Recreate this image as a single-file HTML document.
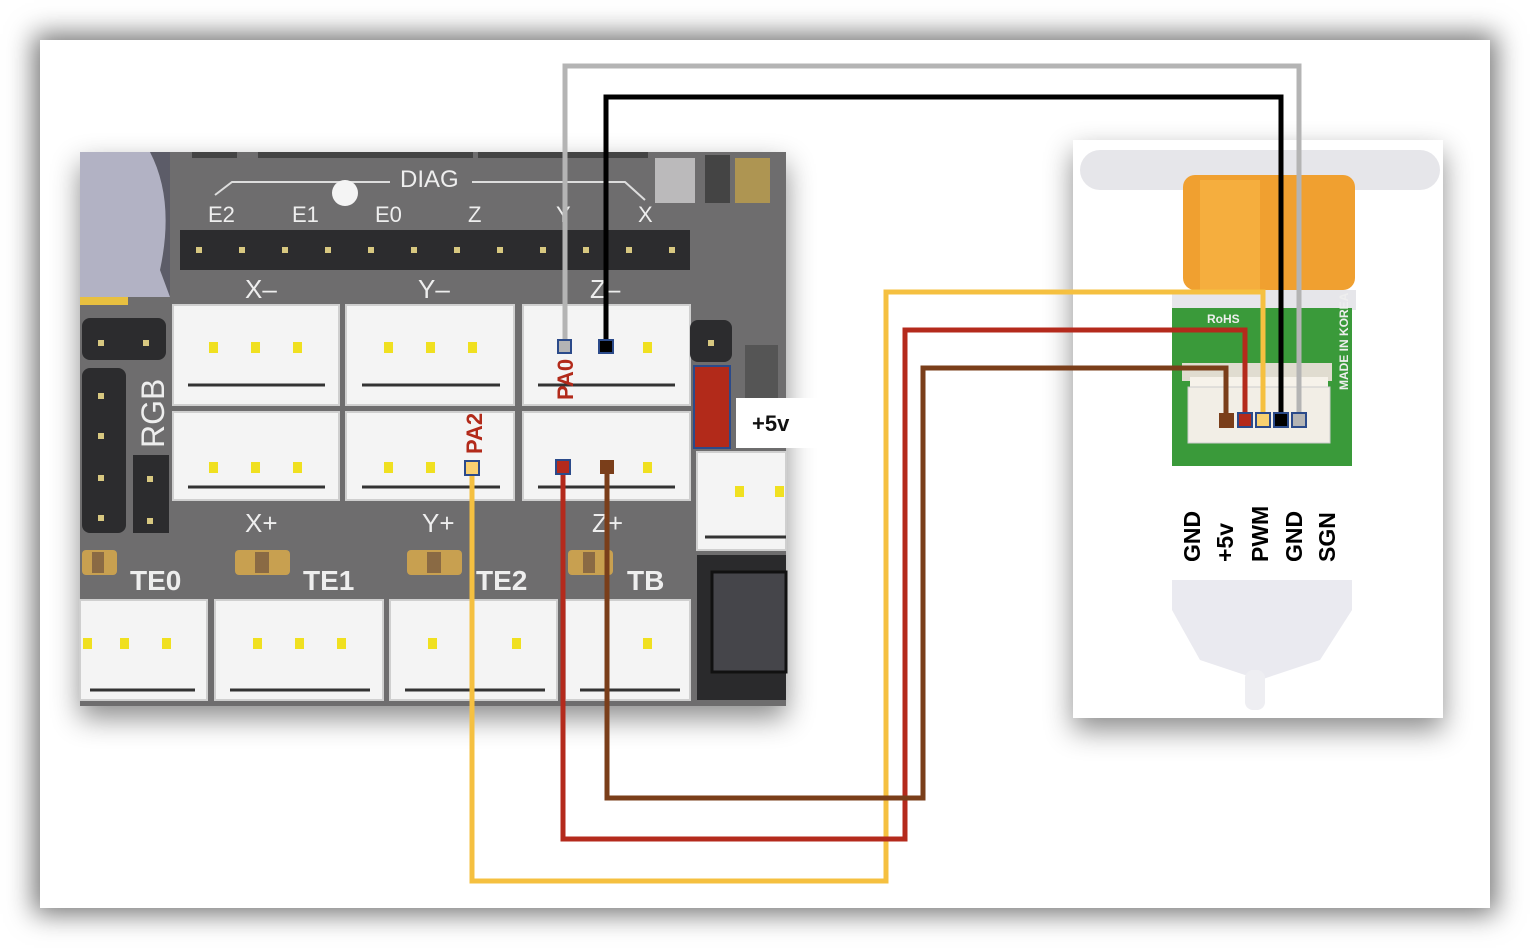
<!DOCTYPE html>
<html><head><style>
html,body{margin:0;padding:0;background:#fff;}
.card{position:absolute;left:40px;top:40px;width:1450px;height:868px;background:#fff;box-shadow:0 0 25px 6px rgba(0,0,0,0.55);}
svg{position:absolute;left:0;top:0;}
</style></head><body>
<div class="card"></div>
<svg width="1530" height="948" viewBox="0 0 1530 948" font-family="Liberation Sans, sans-serif">
<defs>
<filter id="sh" x="-10%" y="-10%" width="120%" height="130%"><feDropShadow dx="0" dy="12" stdDeviation="14" flood-color="#000" flood-opacity="0.45"/></filter>
</defs>
<!-- board -->
<g filter="url(#sh)"><rect x="80" y="152" width="706" height="554" fill="#6e6d6e"/></g>
<rect x="80" y="152" width="90" height="145" fill="#b2b2c4"/>
<path d="M150 152 Q175 200 160 270 L170 297 L170 152Z" fill="#5c5c68"/>
<rect x="80" y="297" width="48" height="8" fill="#e8c040"/>
<!-- top bits -->
<rect x="192" y="152" width="45" height="6" fill="#444"/><rect x="258" y="152" width="215" height="6" fill="#444"/><rect x="478" y="152" width="170" height="6" fill="#444"/>
<path d="M215 195 L232 182 L390 182 M472 182 L625 182 L645 200" stroke="#ddd" stroke-width="2" fill="none"/>
<circle cx="345" cy="193" r="13" fill="#f4f4f4"/>
<text x="400" y="187" fill="#eee" font-size="24">DIAG</text>
<g fill="#eee" font-size="22"><text x="208" y="222">E2</text><text x="292" y="222">E1</text><text x="375" y="222">E0</text><text x="468" y="222">Z</text><text x="556" y="222">Y</text><text x="638" y="222">X</text></g>
<rect x="655" y="158" width="40" height="45" fill="#eee" opacity=".6"/><rect x="705" y="155" width="25" height="48" fill="#444"/><rect x="735" y="158" width="35" height="45" fill="#d8b040" opacity=".6"/>
<!-- header -->
<g fill="#2c2c2e">
<rect x="180" y="230" width="510" height="40"/></g>
<g fill="#d8c880">
<rect x="196" y="247" width="6" height="6"/><rect x="239" y="247" width="6" height="6"/><rect x="282" y="247" width="6" height="6"/><rect x="325" y="247" width="6" height="6"/><rect x="368" y="247" width="6" height="6"/><rect x="411" y="247" width="6" height="6"/><rect x="454" y="247" width="6" height="6"/><rect x="497" y="247" width="6" height="6"/><rect x="540" y="247" width="6" height="6"/><rect x="583" y="247" width="6" height="6"/><rect x="626" y="247" width="6" height="6"/><rect x="669" y="247" width="6" height="6"/></g>
<g fill="#eee" font-size="26"><text x="245" y="298">X–</text><text x="418" y="298">Y–</text><text x="590" y="298">Z–</text>
<text x="245" y="532">X+</text><text x="422" y="532">Y+</text><text x="592" y="532">Z+</text></g>
<!-- connectors rows -->
<g fill="#f4f4f4" stroke="#cfcfcf" stroke-width="2">
<rect x="173" y="305" width="166" height="100"/><rect x="346" y="305" width="168" height="100"/><rect x="523" y="305" width="167" height="100"/>
<rect x="173" y="412" width="166" height="88"/><rect x="346" y="412" width="168" height="88"/><rect x="523" y="412" width="167" height="88"/>
<rect x="80" y="600" width="127" height="100"/><rect x="215" y="600" width="168" height="100"/><rect x="390" y="600" width="167" height="100"/><rect x="565" y="600" width="125" height="100"/>
<rect x="697" y="452" width="89" height="98"/>
</g>
<g stroke="#333" stroke-width="3"><path d="M188 385H325M362 385H500M538 385H675M188 487H325M362 487H500M538 487H675M90 690H195M230 690H370M405 690H545M580 690H680M705 537H786"/></g>
<g fill="#f0e020">
<rect x="209" y="342" width="9" height="11"/><rect x="251" y="342" width="9" height="11"/><rect x="293" y="342" width="9" height="11"/>
<rect x="384" y="342" width="9" height="11"/><rect x="426" y="342" width="9" height="11"/><rect x="468" y="342" width="9" height="11"/><rect x="643" y="342" width="9" height="11"/>
<rect x="209" y="462" width="9" height="11"/><rect x="251" y="462" width="9" height="11"/><rect x="293" y="462" width="9" height="11"/>
<rect x="384" y="462" width="9" height="11"/><rect x="426" y="462" width="9" height="11"/><rect x="643" y="462" width="9" height="11"/>
<rect x="83" y="638" width="9" height="11"/><rect x="120" y="638" width="9" height="11"/><rect x="162" y="638" width="9" height="11"/>
<rect x="253" y="638" width="9" height="11"/><rect x="295" y="638" width="9" height="11"/><rect x="337" y="638" width="9" height="11"/>
<rect x="428" y="638" width="9" height="11"/><rect x="512" y="638" width="9" height="11"/><rect x="643" y="638" width="9" height="11"/>
<rect x="735" y="486" width="9" height="11"/><rect x="775" y="486" width="9" height="11"/></g>
<!-- left pins -->
<g fill="#2c2c2e"><rect x="82" y="318" width="84" height="42" rx="8"/><rect x="82" y="368" width="44" height="165" rx="8"/><rect x="133" y="455" width="36" height="78"/><rect x="690" y="320" width="42" height="42" rx="8"/></g>
<g fill="#d8c880"><rect x="98" y="340" width="6" height="6"/><rect x="143" y="340" width="6" height="6"/><rect x="98" y="393" width="6" height="6"/><rect x="98" y="433" width="6" height="6"/><rect x="98" y="475" width="6" height="6"/><rect x="98" y="515" width="6" height="6"/><rect x="147" y="476" width="6" height="6"/><rect x="147" y="518" width="6" height="6"/><rect x="708" y="340" width="6" height="6"/></g>
<text transform="translate(164,448) rotate(-90)" fill="#eee" font-size="32">RGB</text>
<g fill="#eee" font-size="28" font-weight="bold"><text x="130" y="590">TE0</text><text x="303" y="590">TE1</text><text x="476" y="590">TE2</text><text x="627" y="590">TB</text></g>
<g fill="#c8a050"><rect x="82" y="550" width="35" height="25" rx="4"/><rect x="235" y="550" width="55" height="25" rx="4"/><rect x="407" y="550" width="55" height="25" rx="4"/><rect x="568" y="550" width="45" height="25" rx="4"/></g>
<g fill="#8a6a44"><rect x="92" y="552" width="12" height="21"/><rect x="255" y="552" width="14" height="21"/><rect x="427" y="552" width="14" height="21"/><rect x="583" y="552" width="12" height="21"/></g>
<rect x="745" y="345" width="33" height="55" fill="#555"/>
<rect x="697" y="555" width="89" height="145" fill="#2a2a2c"/><rect x="712" y="572" width="74" height="100" fill="#45454a" stroke="#111" stroke-width="3"/>
<rect x="694" y="366" width="36" height="82" fill="#b22a1a" stroke="#2b4a8a" stroke-width="2"/>
<rect x="736" y="398" width="92" height="50" fill="#fff"/>
<text x="752" y="431" font-size="22" font-weight="bold" fill="#111">+5v</text>
<text transform="translate(573,400) rotate(-90)" fill="#b22a1a" font-size="22" font-weight="bold">PA0</text>
<text transform="translate(482,454) rotate(-90)" fill="#b22a1a" font-size="22" font-weight="bold">PA2</text>

<!-- sensor -->
<g filter="url(#sh)"><rect x="1073" y="140" width="370" height="578" fill="#fff"/></g>
<rect x="1080" y="150" width="360" height="40" rx="20" fill="#e6e6ea"/>
<rect x="1183" y="175" width="172" height="115" rx="12" fill="#f0a030"/>
<rect x="1200" y="180" width="60" height="110" fill="#f8b848" opacity=".6"/>
<rect x="1172" y="290" width="184" height="20" fill="#e6e6ea"/>
<rect x="1172" y="308" width="180" height="160" fill="#3a9a3a"/>
<text transform="translate(1348,390) rotate(-90)" fill="#eee" font-size="12" font-weight="bold">MADE IN KOREA</text>
<text x="1207" y="323" fill="#eee" font-size="12" font-weight="bold">RoHS</text>
<rect x="1182" y="363" width="150" height="18" fill="#e0dcd0"/>
<rect x="1190" y="377" width="138" height="12" fill="#f6f2ea"/>
<rect x="1188" y="387" width="142" height="56" fill="#f2eee6" stroke="#ccc"/>
<rect x="1172" y="466" width="180" height="114" fill="#fff"/>
<path d="M1172 580 H1352 V610 L1320 660 L1260 680 L1200 660 L1172 610Z" fill="#eaeaf0"/>
<rect x="1245" y="670" width="20" height="40" rx="8" fill="#eeeef2"/>
<g font-size="23" font-weight="bold" fill="#000">
<text transform="translate(1200,562) rotate(-90)">GND</text>
<text transform="translate(1233,562) rotate(-90)">+5v</text>
<text transform="translate(1268,562) rotate(-90)">PWM</text>
<text transform="translate(1302,562) rotate(-90)">GND</text>
<text transform="translate(1335,562) rotate(-90)">SGN</text>
</g>

<!-- wires -->
<g fill="none" stroke-width="5" stroke-linejoin="miter">
<path d="M565 346V66H1299V420" stroke="#b4b4b4"/>
<path d="M606 346V97H1281V420" stroke="#000"/>
<path d="M472 468V881H886V292H1263V420" stroke="#f5c040"/>
<path d="M563 468V839H905V330H1245V420" stroke="#b42a1c"/>
<path d="M607 468V798H923V368H1226V420" stroke="#7a3e1a"/>
</g>
<g stroke="#2b4a8a" stroke-width="2">
<rect x="558" y="340" width="13" height="13" fill="#b4b4b4"/>
<rect x="599" y="340" width="14" height="13" fill="#000"/>
<rect x="465" y="461" width="14" height="14" fill="#f8d070"/>
<rect x="556" y="460" width="14" height="14" fill="#b42a1c"/>
<rect x="600" y="460" width="14" height="14" fill="#7a3e1a" stroke="none"/>
<rect x="1219" y="413" width="15" height="15" fill="#7a3e1a" stroke="none"/>
<rect x="1238" y="413" width="14" height="14" fill="#b42a1c"/>
<rect x="1256" y="413" width="14" height="14" fill="#f8d070"/>
<rect x="1274" y="413" width="14" height="14" fill="#000"/>
<rect x="1292" y="413" width="14" height="14" fill="#b4b4b4"/>
</g>
</svg>
</body></html>
